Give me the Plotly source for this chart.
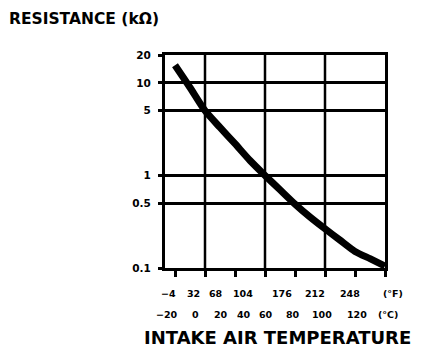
import plotly.graph_objects as go

# ---- data ----
temp_c = [-20, -10, 0, 10, 20, 30, 40, 50, 60, 70, 80, 90, 100, 110, 120]
resistance_kohm = [15.5, 8.9, 5.0, 3.3, 2.2, 1.45, 1.0, 0.7, 0.49, 0.355, 0.265, 0.2, 0.151, 0.126, 0.105]

y_tick_vals = [0.1, 0.5, 1, 5, 10, 20]
y_tick_text = ["0.1", "0.5", "1", "5", "10", "20"]
x_tick_vals = [-20, 0, 20, 40, 60, 80, 100, 120]
x_grid_vals = [0, 40, 80]

f_labels = ["−4", "32", "68", "104", "176", "212", "248", "(°F)"]
c_labels = ["−20", "0", "20", "40", "60", "80", "100", "120", "(°C)"]

# ---- layout constants (window pixels; page body has an 8px margin) ----
OFF = 8
W, H = 432 - OFF, 360 - OFF
L, R, T = 165 - OFF, 47, 55 - OFF
PW, PH = 220, 213
B = H - T - PH
f_label_px = [168, 193, 216, 243, 282, 315, 350, 393]
c_label_px = [167, 195, 221, 244, 266, 293, 322, 357, 388]
f_row_px, c_row_px = 293, 314

BOLD = "DejaVu Sans"

fig = go.Figure()
fig.add_trace(go.Scatter(
    x=temp_c, y=resistance_kohm, mode="lines",
    line=dict(color="black", width=7, shape="spline", smoothing=0.6),
    hoverinfo="skip", showlegend=False,
))

for gx in x_grid_vals:
    fig.add_shape(type="line", xref="x", yref="paper", x0=gx, x1=gx, y0=0, y1=1,
                  line=dict(color="black", width=2.5), layer="below")

def px_to_paper_x(px):
    return (px - OFF - L) / PW

def px_to_paper_y(py):
    return (T + PH - (py - OFF)) / PH

annotations = []
for txt, px in zip(f_labels, f_label_px):
    annotations.append(dict(text=txt, x=px_to_paper_x(px), y=px_to_paper_y(f_row_px),
                            xref="paper", yref="paper", showarrow=False,
                            xanchor="center", yanchor="middle",
                            font=dict(family=BOLD, size=9.5, color="black", weight="bold")))
for txt, px in zip(c_labels, c_label_px):
    annotations.append(dict(text=txt, x=px_to_paper_x(px), y=px_to_paper_y(c_row_px),
                            xref="paper", yref="paper", showarrow=False,
                            xanchor="center", yanchor="middle",
                            font=dict(family=BOLD, size=9.5, color="black", weight="bold")))
annotations.append(dict(text="INTAKE AIR TEMPERATURE", x=px_to_paper_x(277), y=px_to_paper_y(337),
                        xref="paper", yref="paper", showarrow=False,
                        xanchor="center", yanchor="middle",
                        font=dict(family=BOLD, size=18, color="black", weight="bold")))
# figure title, kept just inside the figure's edges
annotations.append(dict(text="RESISTANCE (kΩ)", x=px_to_paper_x(8), y=px_to_paper_y(8.5),
                        xref="paper", yref="paper", showarrow=False,
                        xanchor="left", yanchor="top", borderpad=0,
                        font=dict(family=BOLD, size=15.5, color="black", weight="bold")))

fig.update_layout(
    width=W, height=H, autosize=False,
    margin=dict(l=L, r=R, t=T, b=B, pad=0),
    paper_bgcolor="white", plot_bgcolor="white",
    annotations=annotations,
    xaxis=dict(range=[-20 - 10 / 1.5, 120], tickvals=x_tick_vals, showticklabels=False,
               ticks="outside", ticklen=6, tickwidth=2.5, tickcolor="black",
               showgrid=False, zeroline=False, showline=True, linecolor="black",
               linewidth=3, mirror=True, automargin=False, fixedrange=True),
    yaxis=dict(type="log", range=[-1, 1.30103], tickvals=y_tick_vals, ticktext=y_tick_text,
               ticks="outside", ticklen=4, tickwidth=2.5, tickcolor="black",
               ticklabelstandoff=5,
               tickfont=dict(family=BOLD, size=10.5, color="black", weight="bold"),
               showgrid=True, gridcolor="black", gridwidth=2.5, zeroline=False,
               showline=True, linecolor="black", linewidth=3, mirror=True,
               automargin=False, fixedrange=True),
)

fig.write_html("out.html")
